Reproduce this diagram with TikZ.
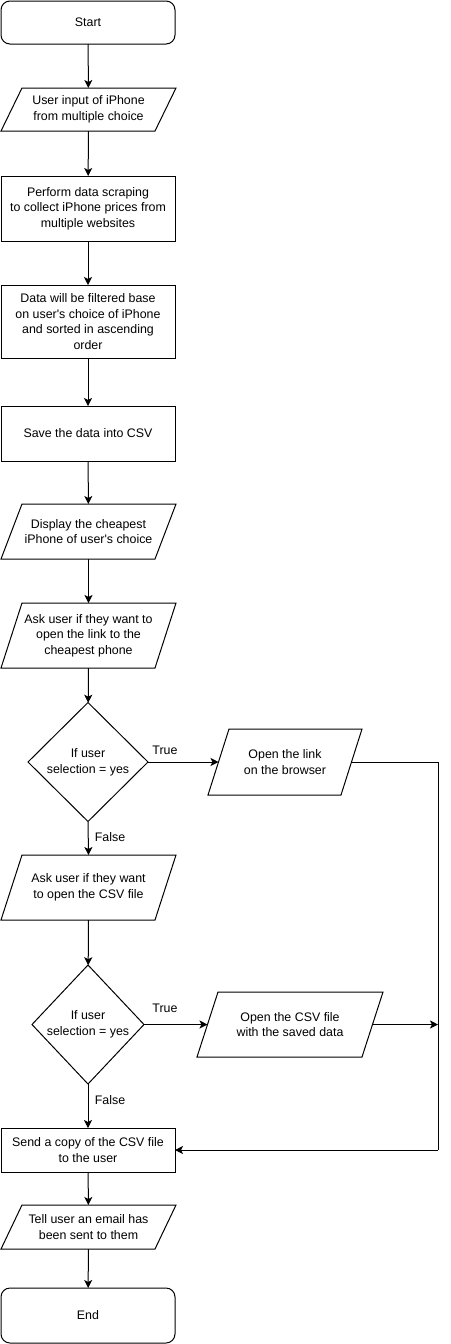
\documentclass[tikz,border=0pt]{standalone}
\usepackage{fontspec}
\setmainfont{Liberation Sans}
\usetikzlibrary{shapes.geometric,arrows.meta}
\begin{document}
\begin{tikzpicture}[x=1pt,y=-1pt,
  txt/.style={font=\fontsize{12.4}{15.6}\selectfont, align=center, text=black},
  term/.style={txt, draw, rounded corners=9pt, minimum width=174pt, line width=1pt, inner sep=0pt, outer sep=0pt},
  proc/.style={txt, draw, minimum width=174pt, line width=1pt, inner sep=0pt, outer sep=0pt},
  io/.style={txt, inner sep=0pt, outer sep=0pt},
  dec/.style={txt, draw, diamond, inner sep=0pt, outer sep=0pt, line width=1pt},
  lab/.style={txt},
  flow/.style={line width=1pt, -{Stealth[length=8pt,width=8pt,inset=2pt]}},
  link/.style={line width=1pt}
]
\useasboundingbox (0,0) rectangle (450,1344);

\node[term, minimum height=43pt] (start) at (88,22.5) {Start};
\node[io, minimum width=175pt, minimum height=43pt] (in1) at (88.5,109.5) {User input of iPhone\\from multiple choice};
\node[proc, minimum height=65pt] (proc1) at (88,208.5) {Perform data scraping\\to collect iPhone prices from\\multiple websites};
\node[proc, minimum height=73pt] (proc2) at (88,321.5) {Data will be filtered base\\on user\textquotesingle s choice of iPhone\\and sorted in ascending\\order};
\node[proc, minimum height=55pt] (save) at (88,433.5) {Save the data into CSV};
\node[io, minimum width=175pt, minimum height=55pt] (disp) at (88.5,531.5) {Display the cheapest\\iPhone of user\textquotesingle s choice};
\node[io, minimum width=175pt, minimum height=65pt] (ask1) at (88.5,635.5) {Ask user if they want to\\open the link to the\\cheapest phone};
\node[dec, minimum width=120pt, minimum height=119pt] (dec1) at (88,762) {If user\\selection = yes};
\node[io, minimum width=154pt, minimum height=66pt] (open1) at (285,762) {Open the link\\on the browser};
\node[io, minimum width=175pt, minimum height=65pt] (ask2) at (88.5,887.5) {Ask user if they want\\to open the CSV file};
\node[dec, minimum width=112pt, minimum height=119pt] (dec2) at (88,1024.5) {If user\\selection = yes};
\node[io, minimum width=186pt, minimum height=65pt] (open2) at (290,1024.5) {Open the CSV file\\with the saved data};
\node[proc, minimum height=44pt] (send) at (88,1150) {Send a copy of the CSV file\\to the user};
\node[io, minimum width=175pt, minimum height=44pt] (tell) at (88.5,1227) {Tell user an email has\\been sent to them};
\node[term, minimum height=55pt] (end) at (88,1315.5) {End};

\foreach \n in {in1,disp,ask1,open1,ask2,open2,tell}
  \draw[link] ([xshift=21pt]\n.north west) -- (\n.north east) -- ([xshift=-21pt]\n.south east) -- (\n.south west) -- cycle;

\coordinate (c1) at (438,762);
\coordinate (c2) at (438,1150);
\coordinate (c3) at (438,1024.5);

\draw[flow] (start) -- (in1);
\draw[flow] (in1) -- (proc1);
\draw[flow] (proc1) -- (proc2);
\draw[flow] (proc2) -- (save);
\draw[flow] (save) -- (disp);
\draw[flow] (disp) -- (ask1);
\draw[flow] (ask1) -- (dec1);
\draw[flow] (dec1.east) -- ([xshift=10.5pt]open1.west);
\draw[flow] (dec1.south) -- (ask2.north);
\draw[flow] (ask2) -- (dec2);
\draw[flow] (dec2.east) -- ([xshift=10.5pt]open2.west);
\draw[flow] (dec2.south) -- (send.north);
\draw[flow] ([xshift=-10.5pt]open2.east) -- (c3);
\draw[link] ([xshift=-10.5pt]open1.east) -- (c1) -- (c2);
\draw[flow] (c2) -- (send.east);
\draw[flow] (send) -- (tell);
\draw[flow] (tell) -- (end);

\node[lab] (t1) at (165,750) {True};
\node[lab] (f1) at (110,837) {False};
\node[lab] (t2) at (165,1008) {True};
\node[lab] (f2) at (110,1100) {False};
\end{tikzpicture}
\end{document}
